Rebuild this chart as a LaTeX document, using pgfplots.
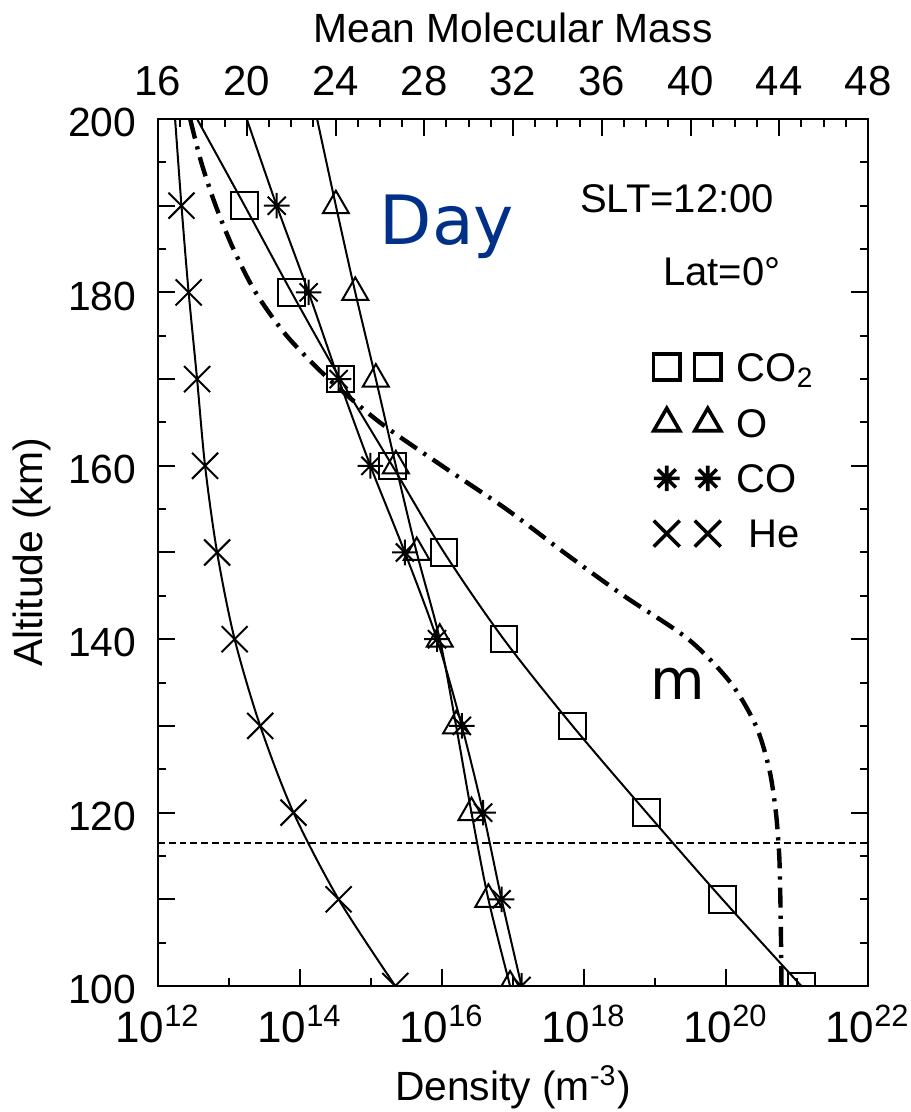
\documentclass[border=0pt]{standalone}
\usepackage{pgfplots}
\pgfplotsset{compat=1.18}
\usepackage{pgfplotstable}
\usepackage{fontspec}
\setmainfont{Liberation Sans}
\newfontfamily\dejavu{DejaVu Sans}
\definecolor{daynavy}{RGB}{0,48,135}

% eight-armed asterisk
\pgfdeclareplotmark{star8}{%
  \pgfpathmoveto{\pgfpoint{-\pgfplotmarksize}{0pt}}%
  \pgfpathlineto{\pgfpoint{\pgfplotmarksize}{0pt}}%
  \pgfpathmoveto{\pgfpoint{0pt}{-\pgfplotmarksize}}%
  \pgfpathlineto{\pgfpoint{0pt}{\pgfplotmarksize}}%
  \pgfpathmoveto{\pgfpoint{-0.707\pgfplotmarksize}{-0.707\pgfplotmarksize}}%
  \pgfpathlineto{\pgfpoint{0.707\pgfplotmarksize}{0.707\pgfplotmarksize}}%
  \pgfpathmoveto{\pgfpoint{-0.707\pgfplotmarksize}{0.707\pgfplotmarksize}}%
  \pgfpathlineto{\pgfpoint{0.707\pgfplotmarksize}{-0.707\pgfplotmarksize}}%
  \pgfusepathqstroke}

% number densities (m^-3) against altitude (km)
\pgfplotstableread{
alt  co2      o        co       he
100  1.15e21  9.1e16   1.32e17  2.2e15
110  8.9e19   4.5e16   6.9e16   3.5e14
120  7.6e18   2.6e16   3.8e16   8.1e13
130  6.9e17   1.58e16  1.9e16   2.75e13
140  7.4e16   9.3e15   8.5e15   1.2e13
150  1.07e16  4.4e15   3.0e15   6.8e12
160  2.0e15   2.24e15  9.8e14   4.6e12
170  3.7e14   1.17e15  3.5e14   3.55e12
180  7.6e13   6.0e14   1.32e14  2.7e12
190  1.66e13  3.2e14   4.7e13   2.14e12
200  3.55e12  1.74e14  1.78e13  1.74e12
}\profiles

% mean molecular mass (amu) against altitude (km)
\pgfplotstableread{
alt  mass
100  44.10
105  44.08
110  44.05
115  44.00
120  43.85
125  43.55
130  42.95
135  41.80
140  39.90
145  37.00
150  34.30
155  31.70
160  28.80
165  26.00
170  23.70
175  21.80
180  20.40
185  19.40
190  18.60
195  17.95
200  17.45
}\meanmass

\pgfplotsset{
  frame/.style={
    at={(0,0)}, anchor=south west,
    scale only axis, width=177.5pt, height=216.75pt,
    ymin=100, ymax=200,
    tick align=inside,
    major tick length=4.25pt, minor tick length=2pt,
    axis line style={line width=0.7pt},
    every tick/.style={black, line width=0.5pt},
    every axis label/.append style={font=\fontsize{10.2}{12}\selectfont},
    /pgf/number format/assume math mode=true,
  },
  curve/.style={black, line width=0.5pt, smooth, no marks},
  pts/.style={black, only marks, line width=0.5pt},
}

\begin{document}
\begin{tikzpicture}
\begin{axis}[
  frame,
  xmode=log, xmin=1e12, xmax=1e22,
  xtick={1e12,1e14,1e16,1e18,1e20,1e22},
  xticklabels={10\textsuperscript{12},10\textsuperscript{14},10\textsuperscript{16},
               10\textsuperscript{18},10\textsuperscript{20},10\textsuperscript{22}},
  minor xtick={1e13,1e15,1e17,1e19,1e21},
  xtick pos=bottom,
  xticklabel style={font=\fontsize{11}{13}\selectfont, inner sep=0pt, anchor=base, yshift=-14pt},
  ytick={100,110,...,200},
  yticklabels={100,,120,,140,,160,,180,,200},
  minor ytick={105,115,...,195},
  ytick pos=left,
  yticklabel style={font=\fontsize{10.2}{12}\selectfont, inner sep=0pt, anchor=east, xshift=-5.25pt, yshift=-0.9pt},
  xlabel={Density (m\textsuperscript{-3})},
  xlabel style={at={(axis description cs:0.5,-0.1165)}, anchor=center},
  ylabel={Altitude (km)},
  ylabel style={at={(axis description cs:-0.1775,0.5)}, anchor=center, rotate=0},
  clip marker paths=true,
  legend cell align=left,
  legend style={draw=none, fill=none, inner sep=0pt,
    at={(axis cs:9.3e18,173.1)}, anchor=north west,
    font=\fontsize{10}{12}\selectfont,
    row sep=6.8pt, column sep=4pt,
    nodes={inner sep=0pt, text height=7pt, text depth=0pt}},
  legend image code/.code={%
    \draw[#1, only marks, line width=0.9pt] plot coordinates {(0pt,0pt) (10.25pt,0pt)};},
]
% smooth profiles through the model levels
\addplot[curve, forget plot] table[x=co2, y=alt] {\profiles};
\addplot[curve, forget plot] table[x=o,   y=alt] {\profiles};
\addplot[curve, forget plot] table[x=co,  y=alt] {\profiles};
\addplot[curve, forget plot] table[x=he,  y=alt] {\profiles};
% symbols every 10 km
\addplot[pts, mark=square,   mark size=3.3pt,  restrict y to domain=99:191] table[x=co2, y=alt] {\profiles};
\addlegendentry{CO\textsubscript{2}}
\addplot[pts, mark=triangle, mark size=3.75pt, restrict y to domain=99:191] table[x=o, y=alt] {\profiles};
\addlegendentry{O}
\addplot[pts, mark=star8,    mark size=3.2pt,  restrict y to domain=99:191] table[x=co, y=alt] {\profiles};
\addlegendentry{CO}
\addplot[pts, mark=x,        mark size=4.6pt,  restrict y to domain=99:191] table[x=he, y=alt] {\profiles};
\addlegendentry{\hspace{3pt}He}
% homopause level
\addplot[forget plot, black, line width=0.7pt, dash pattern=on 1.7pt off 1pt]
  coordinates {(1e12,116.5) (1e22,116.5)};

\node[font=\dejavu\fontsize{17}{20}\selectfont, text=daynavy, anchor=base, inner sep=0pt]
  at (axis cs:1.17e16,185.58) {Day};
\node[font=\fontsize{10}{12}\selectfont, anchor=base, inner sep=0pt]
  at (axis cs:2.04e19,189.16) {SLT=12:00};
\node[font=\fontsize{10}{12}\selectfont, anchor=base, inner sep=0pt]
  at (axis cs:8.7e19,180.85) {Lat=0°};
\node[font=\dejavu\fontsize{14}{16}\selectfont, anchor=base, inner sep=0pt]
  at (axis cs:2.09e19,132.99) {m};
\end{axis}

\begin{axis}[
  frame,
  xmin=16, xmax=48,
  axis x line*=top, axis y line*=right,
  xtick={16,20,...,48}, minor x tick num=3,
  xticklabel style={font=\fontsize{10.5}{12}\selectfont, inner sep=0pt, anchor=base, yshift=5.75pt},
  ytick={100,120,...,200}, minor y tick num=3,
  yticklabels={},
  xlabel={Mean Molecular Mass},
  xlabel style={at={(axis description cs:0.5,1.105)}, anchor=center},
]
\addplot[black, smooth, line width=1.1pt, dash pattern=on 5pt off 2pt on 0.8pt off 2pt]
  table[x=mass, y=alt] {\meanmass};
\end{axis}

\pgfresetboundingbox
\path[use as bounding box] (-39.5pt,-31.5pt) rectangle (188pt,246.5pt);
\end{tikzpicture}
\end{document}
